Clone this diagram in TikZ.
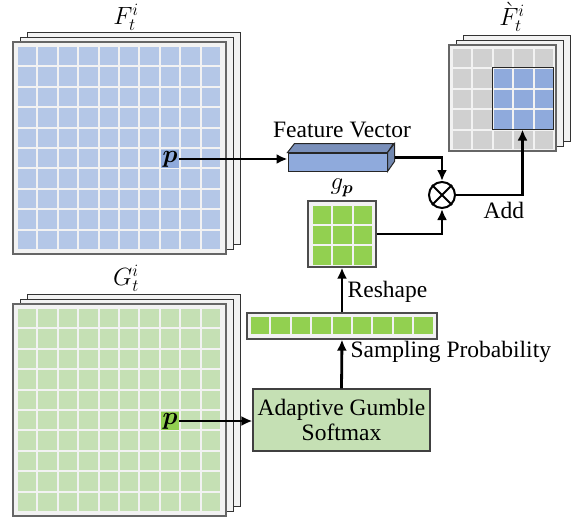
\documentclass[tikz,border=0pt]{standalone}
\usepackage{amsmath,amssymb}
\usepackage{bm}
\usepackage{fontspec}
\setmainfont{Liberation Serif}
\newfontfamily\labelfont{Liberation Serif}
\usetikzlibrary{arrows.meta,calc,positioning}

\definecolor{sheetgray}{HTML}{F2F2F2}
\definecolor{fblue}{HTML}{B4C7E7}
\definecolor{gpale}{HTML}{C5E0B4}
\definecolor{hiblue}{HTML}{8FAADC}
\definecolor{higreen}{HTML}{92D050}
\definecolor{cellgray}{HTML}{D0D0D0}

\tikzset{
  sheet/.style={draw=black!80, fill=sheetgray, line width=1pt},
  frontsheet/.style={draw=black!60, line width=1.6pt},
  conn/.style={line width=2.8pt, -{Latex[length=11pt,width=10pt]}},
  pbox/.style={minimum size=18.4pt, inner sep=0pt},
  boxed/.style={draw=black!70, line width=1.2pt, fill=sheetgray, inner sep=0pt},
}

% three stacked sheets: x1 y1 x2 y2 of the front one
\newcommand\sheetstack[4]{%
  \draw[sheet] (#1+14,#2-10) rectangle (#3+14,#4-10);
  \draw[sheet] (#1+7,#2-5) rectangle (#3+7,#4-5);
  \draw[sheet,frontsheet] (#1,#2) rectangle (#3,#4);}

\begin{document}
\begin{tikzpicture}[x=1pt,y=-1pt,font=\labelfont\fontsize{23.5}{27}\selectfont]
  \useasboundingbox (0,0) rectangle (581,517);

  % F_t^i
  \sheetstack{13}{42}{226}{254}
  \foreach \i in {0,...,9}
    \foreach \j in {0,...,9}
      \fill[fblue] (18+\i*20.4,47+\j*20.4) rectangle ++(18.4,18.4);
  \node (Flab) at (126,17) {$F_t^i$};
  \node[pbox, fill=hiblue] (pF) at (170,159) {$\bm{p}$};

  % G_t^i
  \sheetstack{13}{304}{226}{516}
  \foreach \i in {0,...,9}
    \foreach \j in {0,...,9}
      \fill[gpale] (18+\i*20.4,309+\j*20.4) rectangle ++(18.4,18.4);
  \node (Glab) at (126,278) {$G_t^i$};
  \node[pbox, fill=higreen] (pG) at (170,421) {$\bm{p}$};

  % output map
  \sheetstack{449}{45}{556}{151}
  \foreach \i in {0,...,4}
    \foreach \j in {0,...,4}
      \fill[cellgray] (453+\i*20.4,49+\j*20.4) rectangle ++(18.4,18.4);
  \node[draw=black!85, line width=1pt, fill=sheetgray, minimum width=61pt,
        minimum height=62pt, inner sep=0pt] (hl) at (522.5,98) {};
  \foreach \i in {2,...,4}
    \foreach \j in {1,...,3}
      \fill[hiblue] (453+\i*20.4,49+\j*20.4) rectangle ++(18.4,18.4);
  \node (Hlab) at (512,17) {$\grave{F}_t^i$};

  % feature vector
  \node[draw=black!85, line width=1pt, fill=hiblue, minimum width=99pt,
        minimum height=18pt, inner sep=0pt] (fv) at (337.5,162) {};
  \draw[line width=1pt, draw=black!85, fill=hiblue!85!black]
    (fv.north west) -- ++(7,-9) -- ++(99,0) -- (fv.north east) -- cycle;
  \draw[line width=1pt, draw=black!85, fill=hiblue!80!black]
    (fv.north east) -- ++(7,-9) -- ++(0,18) -- (fv.south east) -- cycle;
  \coordinate (fvr) at ($(fv.east)+(7,-4.5)$);
  \node (fvlab) at (342,130) {Feature Vector};

  % g_p
  \node[boxed, minimum width=68pt, minimum height=66pt] (gp) at (342,234) {};
  \foreach \i in {0,...,2}
    \foreach \j in {0,...,2}
      \fill[higreen] (313+\i*20.4,205.5+\j*20.4) rectangle ++(18.4,18.4);
  \node (gplab) at (342,188) {$g_{\bm{p}}$};

  % probability bar
  \node[boxed, minimum width=190pt, minimum height=26pt] (bar) at (342,326) {};
  \foreach \i in {0,...,8}
    \fill[higreen] (251+\i*20.4,317) rectangle ++(18.4,17.4);

  % gumbel softmax
  \node[draw=black!75, line width=1.2pt, fill=gpale, minimum width=177pt,
        minimum height=62pt, inner sep=0pt, align=center,
        font=\labelfont\fontsize{23.5}{25}\selectfont] (ags) at (341.5,420)
        {Adaptive Gumble\\Softmax};

  % product
  \node[draw, circle, line width=2pt, minimum size=26pt, inner sep=0pt] (mul) at (442,195) {};
  \draw[line width=2pt] (mul.north west) -- (mul.south east)
                        (mul.north east) -- (mul.south west);

  % connections
  \draw[conn] (pF.east) -- (pF.east -| fv.west);
  \draw[conn] (fvr) -| (mul.north);
  \draw[conn] (gp.east) -| (mul.south);
  \draw[conn] (mul.east) -| node[pos=0.36, below=2pt] {Add} (hl.south);
  \draw[conn] (bar.north) -- node[pos=0.45, right=1pt] {Reshape} (gp.south);
  \draw[conn] (ags.north) -- node[pos=0.75, right=4pt] {Sampling Probability} (bar.south);
  \draw[conn] (pG.east) -- (pG.east -| ags.west);
\end{tikzpicture}
\end{document}
